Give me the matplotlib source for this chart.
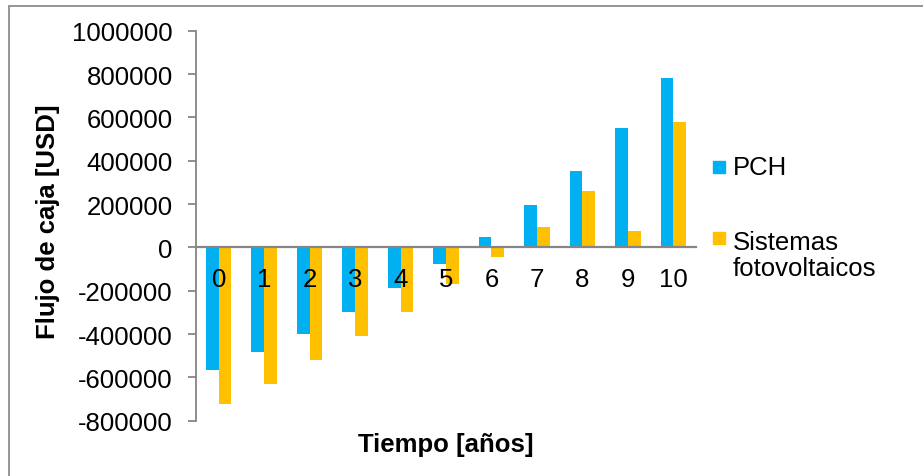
import numpy as np
import matplotlib
matplotlib.use("Agg")
import matplotlib.pyplot as plt
from matplotlib.patches import Rectangle
from matplotlib.ticker import FuncFormatter

plt.rcParams["font.family"] = ["Liberation Sans", "DejaVu Sans"]
plt.rcParams["axes.unicode_minus"] = False

# Datos
anios = [0, 1, 2, 3, 4, 5, 6, 7, 8, 9, 10]
pch = [-565000, -482000, -400000, -298000, -188000, -76000, 50000, 198000, 355000, 549000, 781000]
fotovoltaicos = [-722000, -631000, -520000, -409000, -298000, -168000, -42000, 96000, 262000, 77000, 577000]
series = ["PCH", "Sistemas\nfotovoltaicos"]
colores = ["#00B0F0", "#FFC000"]
y_ticks = [-800000, -600000, -400000, -200000, 0, 200000, 400000, 600000, 800000, 1000000]

W, H = 923, 477
fig = plt.figure(figsize=(W / 100, H / 100), dpi=100)
ax = fig.add_axes([196 / W, 1 - 421.7 / H, 500 / W, (421.7 - 31.8) / H])
ax.set_axisbelow(False)

x = np.arange(len(anios))
w = 0.28
ax.bar(x - w / 2, pch, width=w, color=colores[0], zorder=2)
ax.bar(x + w / 2, fotovoltaicos, width=w, color=colores[1], zorder=2)

ax.set_xlim(-0.5, len(anios) - 0.5)
ax.set_ylim(-800000, 1000000)
ax.set_yticks(y_ticks)
ax.yaxis.set_major_formatter(FuncFormatter(lambda v, p: str(int(v))))
ax.set_xticks(x)
ax.set_xticklabels([str(a) for a in anios])

gris = "#868686"
for s in ["top", "right"]:
    ax.spines[s].set_visible(False)
ax.spines["bottom"].set_position(("data", 0))
ax.spines["bottom"].set_color(gris)
ax.spines["bottom"].set_linewidth(1.6)
ax.spines["bottom"].set_zorder(3)
ax.spines["left"].set_color(gris)
ax.spines["left"].set_linewidth(1.3)

ax.tick_params(axis="y", length=5.8, width=1.3, color=gris, pad=11, labelsize=18.5)
ax.tick_params(axis="x", length=0, pad=14, labelsize=18.5)

fig.text(446 / W, 1 - 445 / H, "Tiempo [años]", ha="center", va="center",
         fontsize=18.5, fontweight="bold")
fig.text(48 / W, 1 - 222 / H, "Flujo de caja [USD]", ha="center", va="center",
         rotation=90, fontsize=18.5, fontweight="bold")

# Leyenda
ley_y = [168, 256]
cuad_y = [168, 239]
for nombre, col, ty, cy in zip(series, colores, ley_y, cuad_y):
    fig.add_artist(Rectangle((713 / W, 1 - (cy + 6) / H), 12 / W, 12 / H,
                             transform=fig.transFigure, color=col))
    fig.text(733 / W, 1 - ty / H, nombre, ha="left", va="center",
             fontsize=18.5, linespacing=1.1)

# Marco exterior
fig.add_artist(Rectangle((9 / W, -0.1), 1.2, 1 - 7 / H + 0.1,
                         transform=fig.transFigure, fill=False,
                         edgecolor="#8c8c8c", linewidth=1.3))

fig.savefig("out.png", dpi=100)
